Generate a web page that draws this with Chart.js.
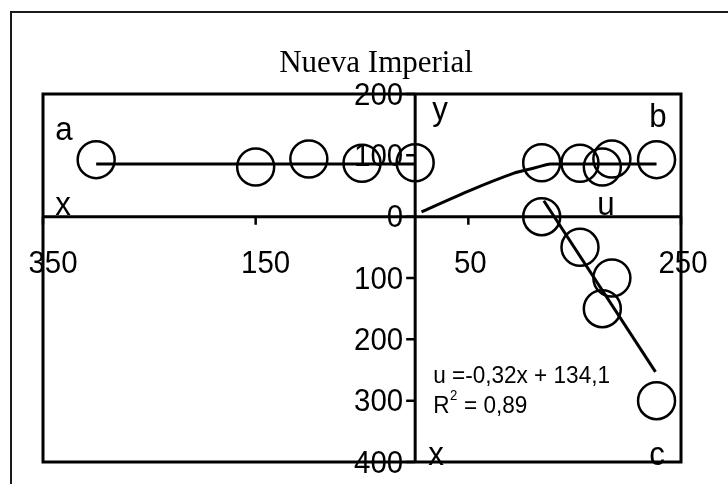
<!DOCTYPE html>
<html>
<head>
<meta charset="utf-8">
<title>Nueva Imperial</title>
<script src="https://cdn.jsdelivr.net/npm/chart.js@4.4.1/dist/chart.umd.min.js"></script>
<style>
  html, body { margin: 0; padding: 0; background: #fff; }
  canvas { display: block; }
</style>
</head>
<body>
<canvas id="chart" width="728" height="484"></canvas>
<script>
/* ── Data ───────────────────────────────────────────────────── */
const chartTitle = 'Nueva Imperial';

// one row per sample: x (drawn leftwards in a, downwards in c), y, u
const xVals = [0, 50, 100, 150, 300];
const yVals = [88, 87, 94, 81, 93];
const uVals = [119, 155, 185, 176, 227];

// fitted lines
const aLineX = [0, 300];
const aLineY = [86, 86];
const bCurveU = [6, 49, 93, 111, 124, 127, 227];
const bCurveY = [8, 41, 71, 79, 85, 86, 86];
const cLineX = [-26, 253];
const cLineU = [121, 226];

// axes: values run -350..250 and -400..200, labels show absolute values
const xTicks = [-350, -150, 50, 250];
const yTicks = [200, 100, 0, -100, -200, -300, -400];

const equation = 'u =-0,32x + 134,1';
const rSquared = '0,89';

/* ── Helpers ────────────────────────────────────────────────── */
const pts = (xs, ys) => xs.map((v, i) => ({ x: v, y: ys[i] }));
const SANS = '"Liberation Sans", Arial, Helvetica, sans-serif';

// slightly condensed text, like the Helvetica of the original
function condText(ctx, text, px, py, sx) {
  ctx.save();
  ctx.translate(px, py);
  ctx.scale(sx, 1);
  ctx.fillText(text, 0, 0);
  ctx.restore();
}

const circleSet = data => ({
  data,
  showLine: false,
  pointRadius: 18.5,
  pointHoverRadius: 18.5,
  pointBorderWidth: 2.5,
  pointBorderColor: '#000',
  pointBackgroundColor: 'rgba(0,0,0,0)'
});

const lineSet = (data, tension) => ({
  data,
  showLine: true,
  borderColor: '#000',
  borderWidth: 3,
  tension: tension || 0,
  pointRadius: 0
});

/* ── Frame, axes and text ───────────────────────────────────── */
const quadrantFrame = {
  id: 'quadrantFrame',
  beforeDatasetsDraw(chart) {
    const { ctx, chartArea: area, scales: { x, y } } = chart;
    const x0 = x.getPixelForValue(0);
    const y0 = y.getPixelForValue(0);
    ctx.save();

    // outer border (runs off right and bottom)
    ctx.strokeStyle = '#1a1a1a';
    ctx.lineWidth = 2;
    ctx.strokeRect(11, 12, 900, 700);

    // plot frame + cross axes
    ctx.strokeStyle = '#000';
    ctx.lineWidth = 3;
    ctx.strokeRect(area.left, area.top, area.width, area.height);
    ctx.beginPath();
    ctx.moveTo(area.left, y0); ctx.lineTo(area.right, y0);
    ctx.moveTo(x0, area.top);  ctx.lineTo(x0, area.bottom);
    ctx.stroke();

    // tick marks
    ctx.lineWidth = 2.5;
    ctx.beginPath();
    yTicks.forEach(v => {
      const py = y.getPixelForValue(v);
      ctx.moveTo(x0 - 9, py); ctx.lineTo(x0, py);
    });
    xTicks.forEach(v => {
      const px = x.getPixelForValue(v);
      ctx.moveTo(px, y0); ctx.lineTo(px, y0 + 8);
    });
    ctx.stroke();

    // tick labels
    ctx.fillStyle = '#000';
    ctx.font = '32px ' + SANS;
    ctx.textAlign = 'right';
    ctx.textBaseline = 'middle';
    yTicks.forEach(v => condText(ctx, String(Math.abs(v)), x0 - 12, y.getPixelForValue(v) + 2, 0.92));
    ctx.textAlign = 'center';
    xTicks.forEach(v => {
      const px = x.getPixelForValue(v) + (v < 0 ? 10 : 2);
      condText(ctx, String(Math.abs(v)), px, y0 + 48, 0.92);
    });

    ctx.restore();
  },
  afterDatasetsDraw(chart) {
    const { ctx, chartArea: area, scales: { x, y } } = chart;
    const x0 = x.getPixelForValue(0);
    const y0 = y.getPixelForValue(0);
    ctx.save();
    ctx.fillStyle = '#000';

    // title
    ctx.font = '31px "Liberation Serif", "Times New Roman", serif';
    ctx.textAlign = 'center';
    ctx.textBaseline = 'alphabetic';
    ctx.fillText(chartTitle, 376, 72);

    // quadrant letters and axis names
    ctx.font = '34px ' + SANS;
    [
      ['a', area.left + 21,  area.top + 46],
      ['x', area.left + 20,  y0 - 2],
      ['y', x0 + 25,         area.top + 26],
      ['b', area.right - 23, area.top + 33],
      ['u', area.right - 75, y0 - 2],
      ['x', x0 + 21,         area.bottom + 3],
      ['c', area.right - 24, area.bottom + 3]
    ].forEach(([t, px, py]) => condText(ctx, t, px, py, 0.92));

    // regression text
    ctx.textAlign = 'left';
    ctx.font = '24px ' + SANS;
    const sx = 0.94;
    const ex = x0 + 18;
    condText(ctx, equation, ex, 383, sx);
    condText(ctx, 'R', ex, 413, sx);
    const rw = ctx.measureText('R').width * sx;
    ctx.font = '14px ' + SANS;
    condText(ctx, '2', ex + rw + 0.5, 400, sx);
    const sw = ctx.measureText('2').width * sx;
    ctx.font = '24px ' + SANS;
    condText(ctx, ' = ' + rSquared, ex + rw + sw + 1, 413, sx);

    ctx.restore();
  }
};

/* ── Chart ──────────────────────────────────────────────────── */
new Chart(document.getElementById('chart'), {
  type: 'scatter',
  data: {
    datasets: [
      circleSet(xVals.map((v, i) => ({ x: -v, y: yVals[i] }))),   // a: y vs x
      circleSet(pts(uVals, yVals)),                               // b: y vs u
      circleSet(xVals.map((v, i) => ({ x: uVals[i], y: -v }))),   // c: x vs u
      lineSet(aLineX.map((v, i) => ({ x: -v, y: aLineY[i] }))),
      lineSet(pts(bCurveU, bCurveY), 0.2),
      lineSet(cLineX.map((v, i) => ({ x: cLineU[i], y: -v })))
    ]
  },
  options: {
    responsive: false,
    devicePixelRatio: 1,
    animation: false,
    events: [],
    clip: false,
    layout: { padding: { left: 43, top: 94, right: 47, bottom: 22 } },
    plugins: {
      legend: { display: false },
      title: { display: false },
      tooltip: { enabled: false }
    },
    scales: {
      x: { type: 'linear', min: -350, max: 250, display: false },
      y: { type: 'linear', min: -400, max: 200, display: false }
    }
  },
  plugins: [quadrantFrame]
});
</script>
</body>
</html>
